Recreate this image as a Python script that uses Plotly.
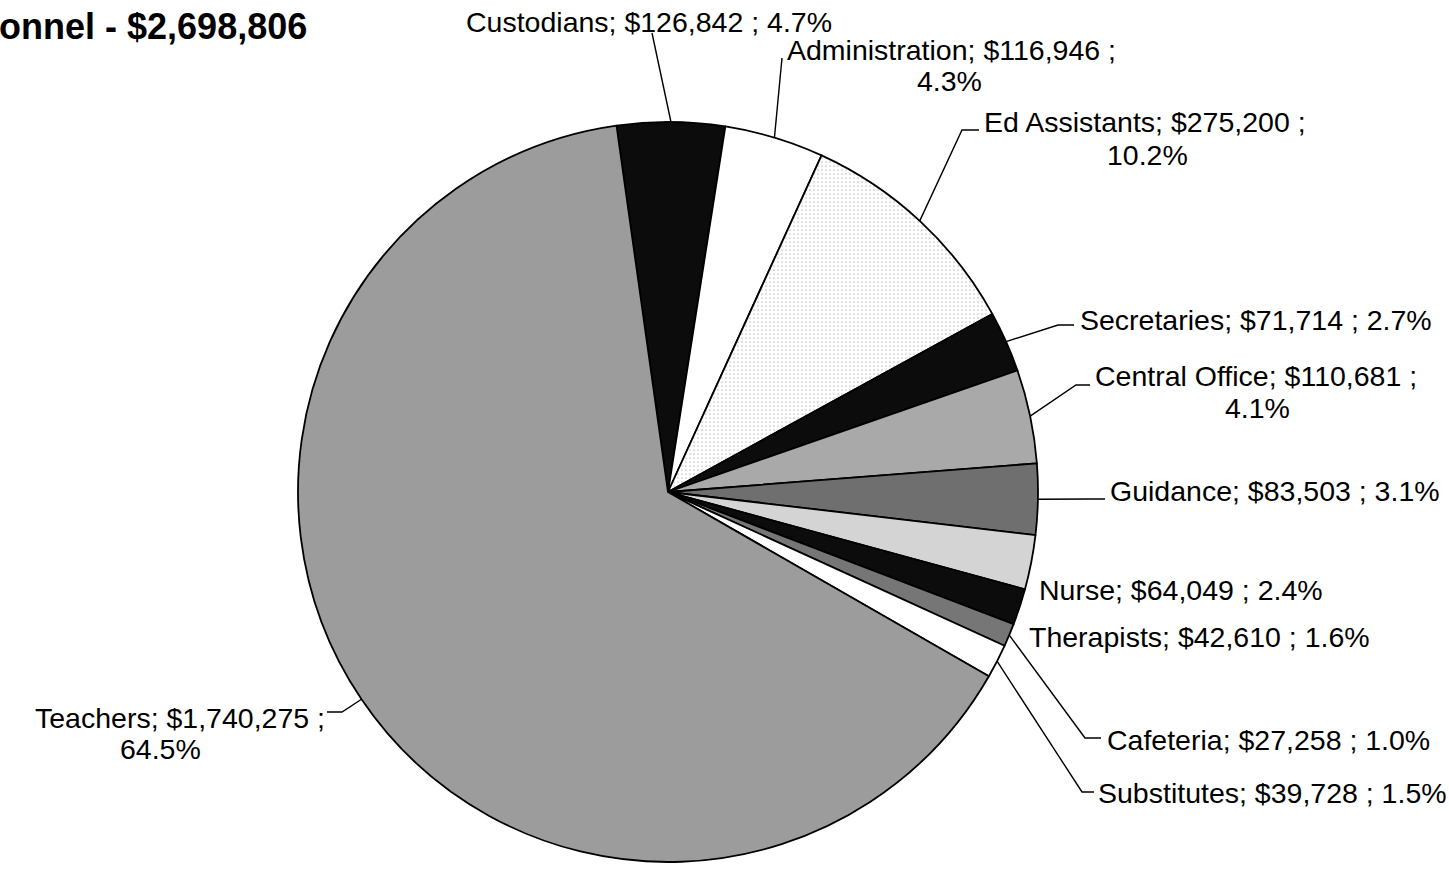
import math
import plotly.graph_objects as go

# ---- data ----
categories = ["Custodians", "Administration", "Ed Assistants", "Secretaries",
              "Central Office", "Guidance", "Nurse", "Therapists",
              "Cafeteria", "Substitutes", "Teachers"]
values = [126842, 116946, 275200, 71714, 110681, 83503, 64049, 42610,
          27258, 39728, 1740275]
title_text = "Personnel - $2,698,806"

# ---- style ----
W, H = 1449, 871
CX, CY, R = 668, 492, 370
ROTATION = -8.0
colors = ["#0c0c0c", "#ffffff", "#efefef", "#0c0c0c", "#a9a9a9", "#6f6f6f",
          "#d4d4d4", "#0c0c0c", "#767676", "#ffffff", "#9c9c9c"]
break_after_semicolon = [False, True, True, False, True, False, False, False,
                         False, False, True]
# first line centre placement (pixels)
line1_pos = [(649, 22), (951, 50), (1145, 122), (1256, 320), (1256, 376),
             (1275, 491), (1181, 590), (1199, 637), (1268, 740),
             (1272, 793), (180, 718)]
# second line centre placement (pixels) for wrapped labels
line2_pos = [None, (949, 81), (1147, 155), None, (1257, 408), None, None,
             None, None, None, (160, 749)]
# leader line extra points (pixels) after the slice anchor
leader_pts = [[(652, 33)], [(782, 58)], [(962, 130), (979, 130)],
              [(1058, 325), (1074, 325)], [(1076, 385), (1090, 385)],
              [(1092, 499), (1105, 499)], [], [],
              [(1085, 738), (1101, 738)], [(1082, 792), (1094, 792)],
              [(342, 712), (327, 712)]]

FONT = "Liberation Sans, Arial, Helvetica, sans-serif"
FS = 28.5


def px(x):
    return x / W


def py(y):
    return 1 - y / H


total = sum(values)

fig = go.Figure(go.Pie(
    labels=categories, values=values, sort=False, direction="clockwise",
    rotation=ROTATION, textinfo="none", hoverinfo="label+value+percent",
    marker=dict(colors=colors, line=dict(color="#000000", width=1.8),
                pattern=dict(shape=["", "", ".", "", "", "", "", "", "", "", ""],
                             fgcolor="#8a8a8a", bgcolor="#ffffff",
                             size=4, solidity=0.15, fillmode="overlay")),
    domain=dict(x=[px(CX - R), px(CX + R)], y=[py(CY + R), py(CY - R)]),
    showlegend=False,
))

annotations = []
shapes = []
cum = 0.0
for i, (cat, v) in enumerate(zip(categories, values)):
    frac = v / total
    mid = math.radians(ROTATION + 360 * (cum + frac / 2))
    cum += frac
    ax_ = CX + R * math.sin(mid)
    ay_ = CY - R * math.cos(mid)
    pct = f"{frac * 100:.1f}%"
    head = f"{cat}; ${v:,} ;"
    lx, ly = line1_pos[i]
    if break_after_semicolon[i]:
        lines = [(head, lx, ly)]
        l2x, l2y = line2_pos[i]
        lines.append((pct, l2x, l2y))
    else:
        lines = [(f"{head} {pct}", lx, ly)]
    for txt, x, y in lines:
        annotations.append(dict(
            x=px(x), y=py(y), xref="paper", yref="paper", text=txt,
            showarrow=False, xanchor="center", yanchor="middle",
            font=dict(family=FONT, size=FS, color="#000000")))
    pts = leader_pts[i]
    if pts:
        path = f"M {px(ax_)} {py(ay_)}" + "".join(
            f" L {px(x)} {py(y)}" for x, y in pts)
        shapes.append(dict(type="path", path=path, xref="paper", yref="paper",
                           line=dict(color="#000000", width=1.4)))

annotations.append(dict(
    x=px(309), y=py(27), xref="paper", yref="paper",
    text=f"<b>{title_text}</b>", showarrow=False, xanchor="right",
    yanchor="middle", font=dict(family=FONT, size=36, color="#000000")))

fig.update_layout(
    width=W, height=H, margin=dict(l=0, r=0, t=0, b=0),
    paper_bgcolor="#ffffff", plot_bgcolor="#ffffff",
    annotations=annotations, shapes=shapes,
)

fig.write_html("out.html", config={"displayModeBar": False},
               post_script="document.body.style.margin='0';"
                           "document.body.style.overflow='hidden';")
